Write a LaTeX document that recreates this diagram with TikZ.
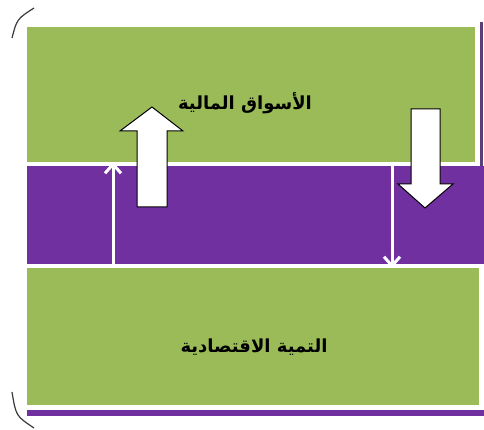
\documentclass[tikz,border=0pt]{standalone}
\usepackage{fontspec}
\usepackage{tikz}
\usetikzlibrary{arrows.meta}
\newfontfamily\arabicfont[Script=Arabic]{DejaVu Sans}
\TeXXeTstate=1
\definecolor{bandgreen}{HTML}{9BBB59}
\definecolor{bandpurple}{HTML}{7030A0}
\definecolor{edgepurple}{HTML}{5B3F7D}
\definecolor{rimgray}{HTML}{3A3A3A}

\begin{document}
\begin{tikzpicture}[x=1pt,y=-1pt,
    band/.style={draw=none,inner sep=0pt,outer sep=0pt},
    bandlabel/.style={font=\arabicfont\bfseries\fontsize{18}{21}\selectfont,text=black,inner sep=0pt},
    thinflow/.style={white,line width=3pt,-{Straight Barb[length=9pt,width=16pt,line width=3pt]}},
    blockarrow/.style={fill=white,draw=black,line width=1pt,line join=miter}]
    \useasboundingbox (0,0) rectangle (484,430);
    \fill [white] (0,0) rectangle (484,430);
    % bands
    \node [band,fill=bandgreen,minimum width=448pt,minimum height=135pt] (markets) at (251,94.5) {};
    \node [band,fill=bandpurple,minimum width=457pt,minimum height=98pt] (link) at (255.5,215) {};
    \node [band,fill=bandgreen,minimum width=452pt,minimum height=137pt] (growth) at (253,336.5) {};
    \node [band,fill=bandpurple,minimum width=457pt,minimum height=6pt] (footstrip) at (255.5,413) {};
    \draw [edgepurple,line width=3pt] (481,22) -- (481,166);
    % rim of the slide
    \draw [rimgray,line width=1.2pt] (12,38) .. controls (17,19) .. (34,8);
    \draw [rimgray,line width=1.2pt] (12,392) .. controls (16,416) .. (34,428);
    % labels
    \node [bandlabel] (marketstext) at (245,103) {\beginR الأسواق المالية\endR};
    \node [bandlabel] (growthtext) at (254,347) {\beginR التمية الاقتصادية\endR};
    % thin flows
    \coordinate (upx) at (113,0);
    \coordinate (downx) at (392,0);
    \draw [thinflow] (growth.north -| upx) -- (markets.south -| upx);
    \draw [thinflow] (markets.south -| downx) -- (growth.north -| downx);
    % block arrows
    \draw [blockarrow] (152,107) -- (183,131) -- (167,131) -- (167,207) -- (137,207) -- (137,131) -- (120,131) -- cycle;
    \draw [blockarrow] (425,208) -- (453,184) -- (440,184) -- (440,109) -- (411,109) -- (411,184) -- (398,184) -- cycle;
\end{tikzpicture}
\end{document}
